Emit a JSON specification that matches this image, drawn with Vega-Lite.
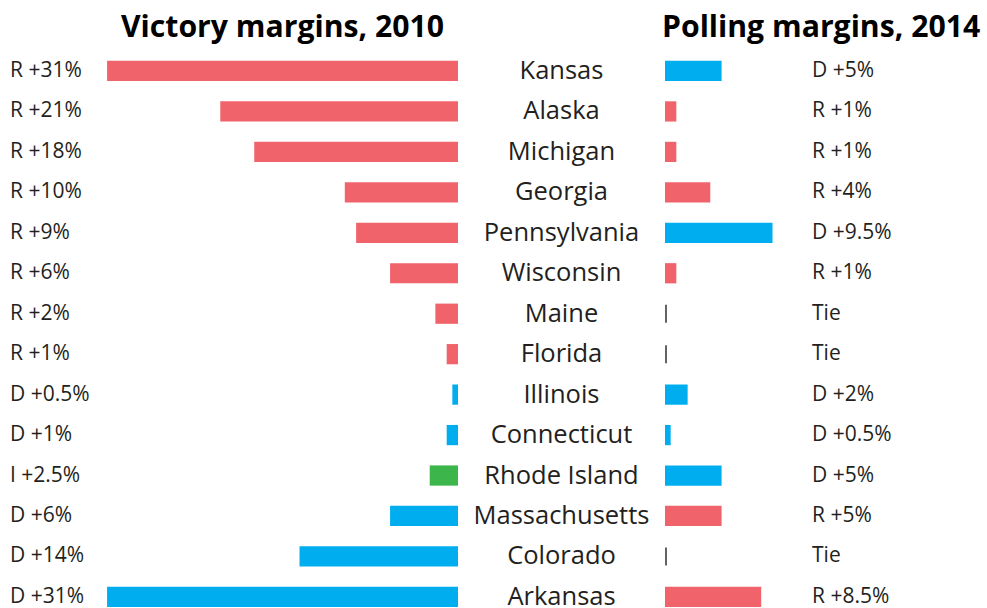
{
  "$schema": "https://vega.github.io/schema/vega-lite/v6.json",
  "padding": {"left": 0, "top": 12, "right": 0, "bottom": 0},
  "spacing": 207,
  "bounds": "flush",
  "background": "white",
  "config": {
    "view": {"stroke": null},
    "title": {"font": "Open Sans", "fontSize": 30.2, "fontWeight": "bold", "color": "#000000", "offset": 8, "frame": "group"}
  },
  "data": {
    "values": [
      {"state": "Kansas", "order": 1, "m2010": 31, "p2010": "R", "lab2010": "R +31%", "m2014": 5, "p2014": "D", "lab2014": "D +5%"},
      {"state": "Alaska", "order": 2, "m2010": 21, "p2010": "R", "lab2010": "R +21%", "m2014": 1, "p2014": "R", "lab2014": "R +1%"},
      {"state": "Michigan", "order": 3, "m2010": 18, "p2010": "R", "lab2010": "R +18%", "m2014": 1, "p2014": "R", "lab2014": "R +1%"},
      {"state": "Georgia", "order": 4, "m2010": 10, "p2010": "R", "lab2010": "R +10%", "m2014": 4, "p2014": "R", "lab2014": "R +4%"},
      {"state": "Pennsylvania", "order": 5, "m2010": 9, "p2010": "R", "lab2010": "R +9%", "m2014": 9.5, "p2014": "D", "lab2014": "D +9.5%"},
      {"state": "Wisconsin", "order": 6, "m2010": 6, "p2010": "R", "lab2010": "R +6%", "m2014": 1, "p2014": "R", "lab2014": "R +1%"},
      {"state": "Maine", "order": 7, "m2010": 2, "p2010": "R", "lab2010": "R +2%", "m2014": 0, "p2014": "T", "lab2014": "Tie"},
      {"state": "Florida", "order": 8, "m2010": 1, "p2010": "R", "lab2010": "R +1%", "m2014": 0, "p2014": "T", "lab2014": "Tie"},
      {"state": "Illinois", "order": 9, "m2010": 0.5, "p2010": "D", "lab2010": "D +0.5%", "m2014": 2, "p2014": "D", "lab2014": "D +2%"},
      {"state": "Connecticut", "order": 10, "m2010": 1, "p2010": "D", "lab2010": "D +1%", "m2014": 0.5, "p2014": "D", "lab2014": "D +0.5%"},
      {"state": "Rhode Island", "order": 11, "m2010": 2.5, "p2010": "I", "lab2010": "I +2.5%", "m2014": 5, "p2014": "D", "lab2014": "D +5%"},
      {"state": "Massachusetts", "order": 12, "m2010": 6, "p2010": "D", "lab2010": "D +6%", "m2014": 5, "p2014": "R", "lab2014": "R +5%"},
      {"state": "Colorado", "order": 13, "m2010": 14, "p2010": "D", "lab2010": "D +14%", "m2014": 0, "p2014": "T", "lab2014": "Tie"},
      {"state": "Arkansas", "order": 14, "m2010": 31, "p2010": "D", "lab2010": "D +31%", "m2014": 8.5, "p2014": "R", "lab2014": "R +8.5%"}
    ]
  },
  "hconcat": [
    {
      "width": 458,
      "height": 556,
      "title": {"text": "Victory margins, 2010", "anchor": "end", "dx": -14},
      "layer": [
        {
          "mark": {"type": "bar"},
          "encoding": {
            "y": {"field": "state", "type": "nominal", "sort": ["Kansas", "Alaska", "Michigan", "Georgia", "Pennsylvania", "Wisconsin", "Maine", "Florida", "Illinois", "Connecticut", "Rhode Island", "Massachusetts", "Colorado", "Arkansas"], "axis": null, "scale": {"paddingInner": 0.5, "paddingOuter": 0.122, "align": 1}},
            "x": {"field": "m2010", "type": "quantitative", "scale": {"domain": [0, 40.46], "reverse": true, "nice": false, "zero": true}, "axis": null},
            "color": {"field": "p2010", "type": "nominal", "scale": {"domain": ["R", "D", "I", "T"], "range": ["#F0636A", "#00AEEF", "#3CB54A", "#231F20"]}, "legend": null}
          }
        },
        {
          "mark": {"type": "text", "align": "left", "baseline": "middle", "fontSize": 21, "font": "Open Sans", "color": "#231F20"},
          "encoding": {
            "y": {"field": "state", "type": "nominal", "sort": ["Kansas", "Alaska", "Michigan", "Georgia", "Pennsylvania", "Wisconsin", "Maine", "Florida", "Illinois", "Connecticut", "Rhode Island", "Massachusetts", "Colorado", "Arkansas"], "axis": null},
            "x": {"datum": 39.58, "type": "quantitative"},
            "text": {"field": "lab2010"}
          }
        }
      ]
    },
    {
      "width": 322,
      "height": 556,
      "title": {"text": "Polling margins, 2014", "anchor": "start", "dx": -3},
      "layer": [
        {
          "transform": [{"filter": "datum.p2014 !== 'T'"}],
          "mark": {"type": "bar"},
          "encoding": {
            "y": {"field": "state", "type": "nominal", "sort": ["Kansas", "Alaska", "Michigan", "Georgia", "Pennsylvania", "Wisconsin", "Maine", "Florida", "Illinois", "Connecticut", "Rhode Island", "Massachusetts", "Colorado", "Arkansas"], "axis": null, "scale": {"paddingInner": 0.5, "paddingOuter": 0.122, "align": 1}},
            "x": {"field": "m2014", "type": "quantitative", "scale": {"domain": [0, 28.45], "nice": false, "zero": true}, "axis": null},
            "color": {"field": "p2014", "type": "nominal", "scale": {"domain": ["R", "D", "I", "T"], "range": ["#F0636A", "#00AEEF", "#3CB54A", "#231F20"]}, "legend": null}
          }
        },
        {
          "transform": [{"filter": "datum.p2014 === 'T'"}],
          "mark": {"type": "tick", "orient": "vertical", "size": 18, "thickness": 2, "color": "#231F20", "xOffset": 1},
          "encoding": {
            "y": {"field": "state", "type": "nominal", "sort": ["Kansas", "Alaska", "Michigan", "Georgia", "Pennsylvania", "Wisconsin", "Maine", "Florida", "Illinois", "Connecticut", "Rhode Island", "Massachusetts", "Colorado", "Arkansas"], "axis": null},
            "x": {"field": "m2014", "type": "quantitative"}
          }
        },
        {
          "mark": {"type": "text", "align": "center", "baseline": "middle", "fontSize": 25.5, "font": "Open Sans", "color": "#231F20"},
          "encoding": {
            "y": {"field": "state", "type": "nominal", "sort": ["Kansas", "Alaska", "Michigan", "Georgia", "Pennsylvania", "Wisconsin", "Maine", "Florida", "Illinois", "Connecticut", "Rhode Island", "Massachusetts", "Colorado", "Arkansas"], "axis": null},
            "x": {"datum": -9.145, "type": "quantitative"},
            "text": {"field": "state"}
          }
        },
        {
          "mark": {"type": "text", "align": "left", "baseline": "middle", "fontSize": 21, "font": "Open Sans", "color": "#231F20"},
          "encoding": {
            "y": {"field": "state", "type": "nominal", "sort": ["Kansas", "Alaska", "Michigan", "Georgia", "Pennsylvania", "Wisconsin", "Maine", "Florida", "Illinois", "Connecticut", "Rhode Island", "Massachusetts", "Colorado", "Arkansas"], "axis": null},
            "x": {"datum": 12.99, "type": "quantitative"},
            "text": {"field": "lab2014"}
          }
        }
      ]
    }
  ]
}
